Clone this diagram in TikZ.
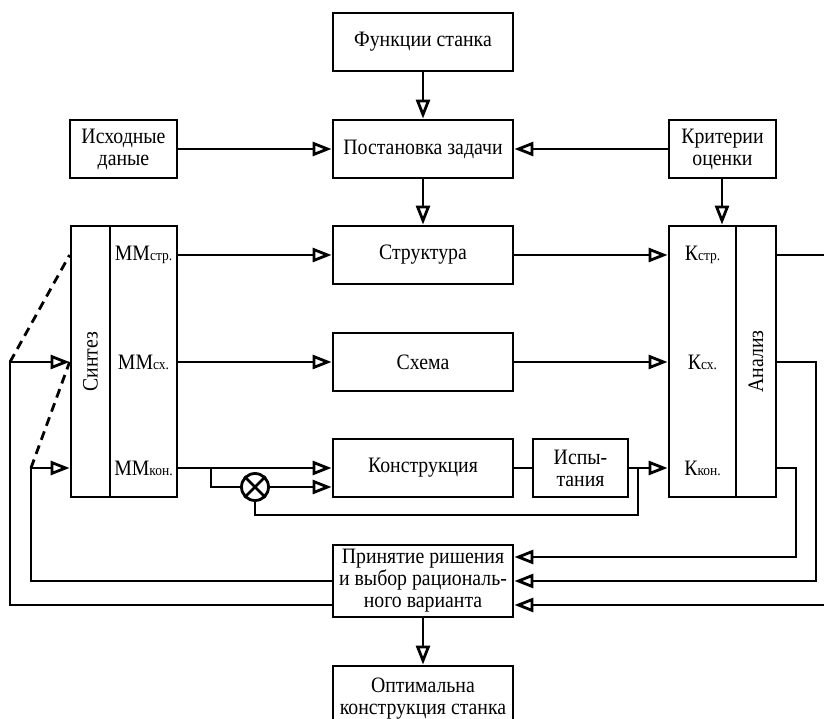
\documentclass[tikz,border=0pt]{standalone}
\usepackage{fontspec}
\setmainfont{Liberation Serif}[FakeStretch=0.9]
\usetikzlibrary{arrows.meta}

\newcommand{\sml}[1]{{\fontsize{15}{15}\selectfont #1}}

\tikzset{
  ln/.style={line width=2.8pt},
  blk/.style={draw, ln, minimum width=180pt, minimum height=58pt, align=center, inner sep=2pt},
  arr/.style={ln, -{Triangle[open, length=19pt, width=14pt]}},
}

\begin{document}
\begin{tikzpicture}[x=1pt,y=-1pt,font=\fontsize{22}{22}\selectfont]
  \useasboundingbox (0,0) rectangle (824,719);

  % upper part
  \node[blk] (fun) at (423,42) {Функции станка};
  \node[blk] (post) at (423,149) {Постановка задачи};
  \node[blk, minimum width=107pt] (isx) at (123.5,149) {Исходные\\даные};
  \node[blk, minimum width=107pt] (krit) at (722.5,149) {Критерии\\оценки};

  % middle column
  \node[blk] (str) at (423,255) {Структура};
  \node[blk] (sxe) at (423,362) {Схема};
  \node[blk] (kon) at (423,468) {Конструкция};
  \node[blk, minimum width=95pt] (isp) at (580.5,468) {Испы-\\тания};

  % synthesis
  \node[blk, minimum width=39pt, minimum height=271pt] (sin) at (90.5,361.5) {};
  \node[rotate=90] (sintxt) at (sin) {Синтез};
  \node[blk, minimum width=67pt, minimum height=271pt] (mm) at (143.5,361.5) {};
  \node (mmstr) at (mm |- str) {ММ\sml{стр.}};
  \node (mmsx) at (mm |- sxe) {ММ\sml{сх.}};
  \node (mmkon) at (mm |- kon) {ММ\sml{кон.}};

  % analysis
  \node[blk, minimum width=67pt, minimum height=271pt] (kk) at (702.5,361.5) {};
  \node (kstr) at (kk |- str) {К\sml{стр.}};
  \node (ksx) at (kk |- sxe) {К\sml{сх.}};
  \node (kkon) at (kk |- kon) {К\sml{кон.}};
  \node[blk, minimum width=40pt, minimum height=271pt] (an) at (756,361.5) {};
  \node[rotate=90] (antxt) at (an) {Анализ};

  % lower part
  \node[blk, minimum height=72pt] (prin) at (423,581) {Принятие ришения\\и выбор рациональ-\\ного варианта};
  \node[blk, minimum height=66pt] (opt) at (423,699) {Оптимальна\\конструкция станка};
  \node[draw, ln, circle, minimum size=27pt, inner sep=0pt] (mix) at (255,487) {};
  \draw[ln] (mix.45) -- (mix.225) (mix.135) -- (mix.315);

  \coordinate (b1) at (211,0);
  \coordinate (b2) at (638,515);
  \coordinate (l1) at (31,0);
  \coordinate (l2) at (10,0);
  \coordinate (r1) at (816,0);
  \coordinate (r2) at (796,0);
  \coordinate (edge) at (824,0);
  \coordinate (kt) at (722,0);
  \coordinate (p1) at ([yshift=24pt]prin.east);
  \coordinate (p3) at ([yshift=-24pt]prin.east);
  \coordinate (q3) at ([yshift=-24pt]prin.west);

  % task statement
  \draw[arr] (fun) -- (post);
  \draw[arr] (isx) -- (post);
  \draw[arr] (krit) -- (post);
  \draw[arr] (post) -- (str);
  \draw[arr] (kt |- krit.south) -- (kt |- kk.north);

  % models to objects to criteria
  \draw[arr] (mm.east |- str) -- (str);
  \draw[arr] (str) -- (kk.west |- str);
  \draw[arr] (mm.east |- sxe) -- (sxe);
  \draw[arr] (sxe) -- (kk.west |- sxe);
  \draw[arr] (mm.east |- kon) -- (kon);
  \draw[ln] (kon) -- (isp);
  \draw[arr] (isp) -- (kk.west |- isp);

  % test loop
  \draw[ln] (b1 |- kon) |- (mix.west);
  \draw[arr] (mix.east) -- (kon.west |- mix);
  \draw[ln] (b2 |- isp) -- (b2) -| (mix.south);

  % right side
  \draw[ln] (an.east |- str) -- (edge |- str);
  \draw[arr] (an.east |- sxe) -| (r1 |- prin.east) -- (prin.east);
  \draw[arr] (an.east |- kon) -| (r2 |- p1) -- (p1);
  \draw[arr] (edge |- p3) -- (p3);

  % left side
  \draw[arr] (prin.west) -| (l1 |- kon) -- (sin.west |- kon);
  \draw[arr] (q3) -| (l2 |- sxe) -- (sin.west |- sxe);
  \draw[ln, dashed, dash pattern=on 9pt off 6pt] (l1 |- kon) -- (sin.west |- sxe);
  \draw[ln, dashed, dash pattern=on 9pt off 6pt] (l2 |- sxe) -- (sin.west |- str);

  \draw[arr] (prin) -- (opt);
\end{tikzpicture}
\end{document}
